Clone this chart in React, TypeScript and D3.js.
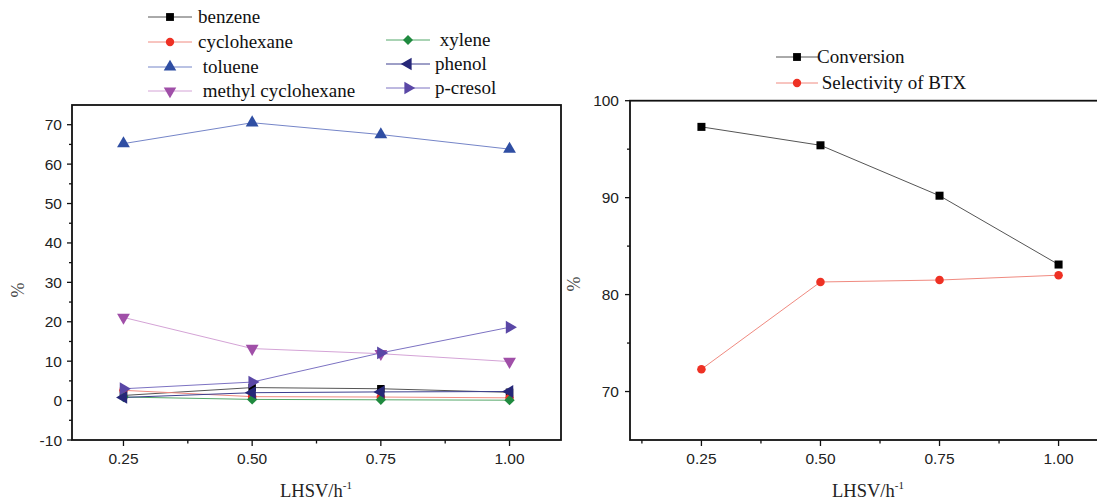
import React from "react";
import * as d3 from "d3";

const X = [0.25, 0.5, 0.75, 1.0];
const xTicks = [0.25, 0.5, 0.75, 1.0];
const xMinorLeft = [0.375, 0.625, 0.875];
const xMinorRight = [0.125, 0.375, 0.625, 0.875];

const benzene = [1.3, 3.3, 3.0, 2.1];
const cyclohexane = [2.6, 1.0, 0.9, 0.7];
const toluene = [65.2, 70.5, 67.5, 63.8];
const methylCyclohexane = [21.1, 13.2, 11.9, 9.9];
const xylene = [0.9, 0.3, 0.2, 0.1];
const phenol = [0.8, 2.0, 2.2, 2.3];
const pCresol = [3.0, 4.7, 12.1, 18.6];

const conversion = [97.3, 95.4, 90.2, 83.1];
const selectivity = [72.3, 81.3, 81.5, 82.0];

const yTicksLeft = [-10, 0, 10, 20, 30, 40, 50, 60, 70];
const yMinorLeft = [-5, 5, 15, 25, 35, 45, 55, 65];
const yTicksRight = [70, 80, 90, 100];
const yMinorRight = [75, 85, 95];

type Shape = "square" | "circle" | "up" | "down" | "diamond" | "left" | "right";

const leftSeries: { name: string; values: number[]; marker: string; line: string; shape: Shape }[] = [
  { name: "benzene", values: benzene, marker: "#000000", line: "#555555", shape: "square" },
  { name: "cyclohexane", values: cyclohexane, marker: "#ee3124", line: "#f08a80", shape: "circle" },
  { name: " toluene", values: toluene, marker: "#2f4ea3", line: "#7585c8", shape: "up" },
  { name: " methyl cyclohexane", values: methylCyclohexane, marker: "#a04fa8", line: "#d4a3d6", shape: "down" },
  { name: " xylene", values: xylene, marker: "#1f8a3f", line: "#55a86a", shape: "diamond" },
  { name: "phenol", values: phenol, marker: "#262778", line: "#3d3f8f", shape: "left" },
  { name: "p-cresol", values: pCresol, marker: "#5a47a6", line: "#7c72c2", shape: "right" },
];

const rightSeries: { name: string; values: number[]; marker: string; line: string; shape: Shape }[] = [
  { name: "Conversion", values: conversion, marker: "#000000", line: "#555555", shape: "square" },
  { name: " Selectivity of BTX", values: selectivity, marker: "#ee3124", line: "#f08a80", shape: "circle" },
];

const serif = "'Liberation Serif', 'Times New Roman', serif";
const sans = "'Liberation Sans', Arial, sans-serif";

function Marker({ x, y, shape, color, s = 1 }: { x: number; y: number; shape: Shape; color: string; s?: number }) {
  let type: d3.SymbolType = d3.symbolSquare;
  let size = 56 * s;
  let rot = 0;
  if (shape === "circle") { type = d3.symbolCircle; size = 50 * s; }
  if (shape === "diamond") { type = d3.symbolSquare; size = 46 * s; rot = 45; }
  if (shape === "up" || shape === "down" || shape === "left" || shape === "right") {
    type = d3.symbolTriangle;
    size = 62 * s;
    rot = shape === "up" ? 0 : shape === "down" ? 180 : shape === "left" ? -90 : 90;
  }
  const path = d3.symbol().type(type).size(size)() || "";
  return <path d={path} fill={color} transform={`translate(${x},${y}) rotate(${rot})`} />;
}

export default function App() {
  // Left panel
  const lx = d3.scaleLinear().domain([0.15, 1.1]).range([72, 561]);
  const ly = d3.scaleLinear().domain([-10, 75]).range([440, 105]);
  // Right panel
  const rx = d3.scaleLinear().domain([0.1, 1.15]).range([630, 1130]);
  const ry = d3.scaleLinear().domain([65, 100]).range([440, 100.7]);

  const lineL = d3.line<number>().x((_, i) => lx(X[i])).y((d) => ly(d));
  const lineR = d3.line<number>().x((_, i) => rx(X[i])).y((d) => ry(d));

  const axisColor = "#111";
  const tickText = "#222";

  const legendL = [
    { s: leftSeries[0], x1: 148, x2: 192, y: 17, tx: 198 },
    { s: leftSeries[1], x1: 148, x2: 192, y: 42, tx: 198 },
    { s: leftSeries[2], x1: 148, x2: 192, y: 67, tx: 198 },
    { s: leftSeries[3], x1: 148, x2: 192, y: 91, tx: 198 },
    { s: leftSeries[4], x1: 386, x2: 430, y: 40, tx: 435 },
    { s: leftSeries[5], x1: 386, x2: 430, y: 64, tx: 435 },
    { s: leftSeries[6], x1: 386, x2: 430, y: 88, tx: 435 },
  ];
  const legendR = [
    { s: rightSeries[0], x1: 776, x2: 818, y: 57, tx: 817 },
    { s: rightSeries[1], x1: 776, x2: 818, y: 83, tx: 817 },
  ];

  return (
    <svg width={1097} height={500} style={{ position: "absolute", left: 0, top: 0, background: "#fff" }}>
      <rect x={0} y={0} width={1097} height={500} fill="#fff" />
      {/* ---------- Left panel ---------- */}
      <g>
        {yTicksLeft.map((t) => (
          <g key={"ly" + t}>
            <line x1={67} x2={72} y1={ly(t)} y2={ly(t)} stroke={axisColor} strokeWidth={1.3} />
            <text x={62} y={ly(t) + 5.5} textAnchor="end" fontFamily={sans} fontSize={15.5} fill={tickText}>{t}</text>
          </g>
        ))}
        {yMinorLeft.map((t) => (
          <line key={"lym" + t} x1={69} x2={72} y1={ly(t)} y2={ly(t)} stroke={axisColor} strokeWidth={1.3} />
        ))}
        {xTicks.map((t) => (
          <g key={"lx" + t}>
            <line x1={lx(t)} x2={lx(t)} y1={440} y2={446} stroke={axisColor} strokeWidth={1.3} />
            <text x={lx(t)} y={464} textAnchor="middle" fontFamily={sans} fontSize={15.5} fill={tickText}>{t.toFixed(2)}</text>
          </g>
        ))}
        {xMinorLeft.map((t) => (
          <line key={"lxm" + t} x1={lx(t)} x2={lx(t)} y1={440} y2={443.5} stroke={axisColor} strokeWidth={1.3} />
        ))}
        {leftSeries.map((s) => (
          <path key={"ll" + s.name} d={lineL(s.values) || ""} fill="none" stroke={s.line} strokeWidth={1} />
        ))}
        {leftSeries.map((s) =>
          s.values.map((v, i) => (
            <Marker key={"lm" + s.name + i} x={lx(X[i])} y={ly(v)} shape={s.shape} color={s.marker} s={s.shape === "square" ? 1 : 1.15} />
          ))
        )}
        <rect x={72} y={105} width={561 - 72} height={440 - 105} fill="none" stroke={axisColor} strokeWidth={1.8} />
        <text transform={`translate(24,290) rotate(-90)`} textAnchor="middle" fontFamily={serif} fontSize={18} fill="#444">%</text>
        <text x={316} y={497} textAnchor="middle" fontFamily={serif} fontSize={18.5} fill="#222">
          LHSV/h<tspan dy={-8} fontSize={11}>-1</tspan>
        </text>
        {legendL.map((l) => (
          <g key={"lg" + l.s.name}>
            <line x1={l.x1} x2={l.x2} y1={l.y} y2={l.y} stroke={l.s.line} strokeWidth={1} />
            <Marker x={(l.x1 + l.x2) / 2} y={l.y} shape={l.s.shape} color={l.s.marker} s={1.1} />
            <text x={l.tx} y={l.y + 6} fontFamily={serif} fontSize={19} fill="#111" style={{ whiteSpace: "pre" }}>{l.s.name}</text>
          </g>
        ))}
      </g>

      {/* ---------- Right panel ---------- */}
      <g>
        {yTicksRight.map((t) => (
          <g key={"ry" + t}>
            <line x1={625} x2={630} y1={ry(t)} y2={ry(t)} stroke={axisColor} strokeWidth={1.3} />
            <text x={619} y={ry(t) + 5.5} textAnchor="end" fontFamily={sans} fontSize={15.5} fill={tickText}>{t}</text>
          </g>
        ))}
        {yMinorRight.map((t) => (
          <line key={"rym" + t} x1={627} x2={630} y1={ry(t)} y2={ry(t)} stroke={axisColor} strokeWidth={1.3} />
        ))}
        {xTicks.map((t) => (
          <g key={"rx" + t}>
            <line x1={rx(t)} x2={rx(t)} y1={440} y2={446} stroke={axisColor} strokeWidth={1.3} />
            <text x={rx(t)} y={464} textAnchor="middle" fontFamily={sans} fontSize={15.5} fill={tickText}>{t.toFixed(2)}</text>
          </g>
        ))}
        {xMinorRight.map((t) => (
          <line key={"rxm" + t} x1={rx(t)} x2={rx(t)} y1={440} y2={443.5} stroke={axisColor} strokeWidth={1.3} />
        ))}
        {rightSeries.map((s) => (
          <path key={"rl" + s.name} d={lineR(s.values) || ""} fill="none" stroke={s.line} strokeWidth={1} />
        ))}
        {rightSeries.map((s) =>
          s.values.map((v, i) => (
            <Marker key={"rm" + s.name + i} x={rx(X[i])} y={ry(v)} shape={s.shape} color={s.marker} s={1.15} />
          ))
        )}
        <rect x={630} y={100.7} width={1130 - 630} height={440 - 100.7} fill="none" stroke={axisColor} strokeWidth={1.8} />
        <text transform={`translate(580,284) rotate(-90)`} textAnchor="middle" fontFamily={serif} fontSize={18} fill="#444">%</text>
        <text x={868} y={497} textAnchor="middle" fontFamily={serif} fontSize={18.5} fill="#222">
          LHSV/h<tspan dy={-8} fontSize={11}>-1</tspan>
        </text>
        {legendR.map((l) => (
          <g key={"rg" + l.s.name}>
            <line x1={l.x1} x2={l.x2} y1={l.y} y2={l.y} stroke={l.s.line} strokeWidth={1} />
            <Marker x={(l.x1 + l.x2) / 2} y={l.y} shape={l.s.shape} color={l.s.marker} s={1.1} />
            <text x={l.tx} y={l.y + 6} fontFamily={serif} fontSize={19} fill="#111" style={{ whiteSpace: "pre" }}>{l.s.name}</text>
          </g>
        ))}
      </g>
    </svg>
  );
}
